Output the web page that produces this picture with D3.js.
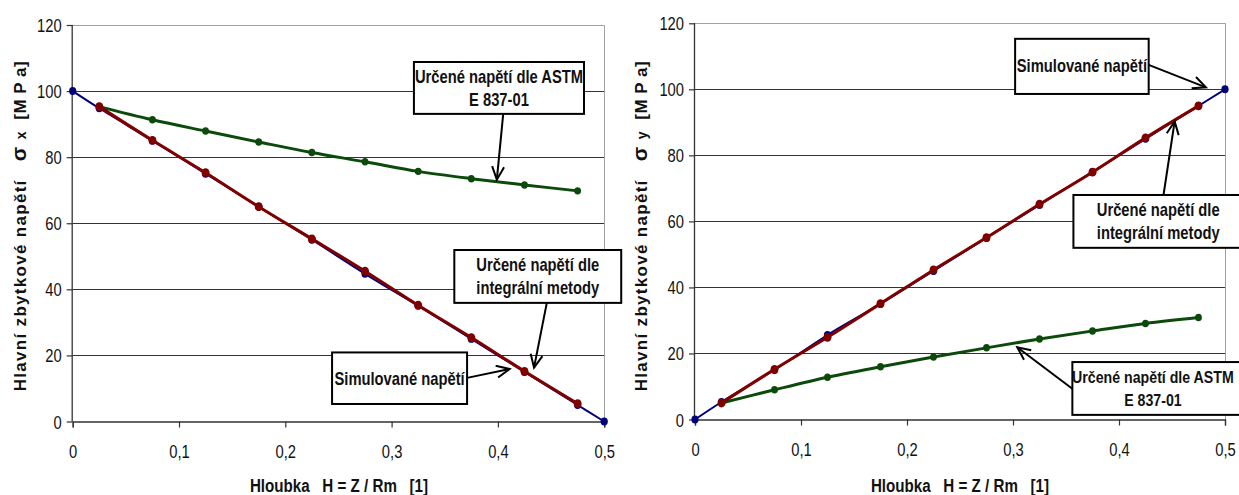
<!DOCTYPE html>
<html><head><meta charset="utf-8">
<script src="https://cdn.jsdelivr.net/npm/d3@7"></script>
<style>body{margin:0;background:#fff}svg{display:block}</style>
</head><body><svg id="c" width="1239" height="495"></svg>
<script>
// ---------- DATA ----------
const depthMeas = [0.025,0.075,0.125,0.175,0.225,0.275,0.325,0.375,0.425,0.475];
const depthSim  = [0,0.025,0.075,0.125,0.175,0.225,0.275,0.325,0.375,0.425,0.475,0.5];
const leftSim      = [100,94.8,85,75,65,55,44.7,35,25,15,5,0];
const leftIntegral = [95.3,85.1,75.3,65.0,55.3,45.5,35.2,25.4,15.2,5.4];
const leftAstm     = [95.3,91.3,87.9,84.6,81.4,78.6,75.7,73.5,71.6,69.8];
const rightSim      = [0,5.3,15,25.6,35,45,55,65,75,85,95,100];
const rightIntegral = [5.0,15.2,24.9,35.1,45.3,55.1,65.2,74.9,85.3,95.0];
const rightAstm     = [5.0,9.0,12.8,16.0,18.9,21.7,24.4,26.8,29.1,30.9];
const xTicks = [0,0.1,0.2,0.3,0.4,0.5];
const xTickLabels = ["0","0,1","0,2","0,3","0,4","0,5"];
const yTicks = [0,20,40,60,80,100,120];
const xTitle = "Hloubka   H = Z / Rm   [1]";
const yTitleMain = "Hlavní zbytkové napětí";
const yUnit = "[M P a]";
const noteAstm = ["Určené napětí dle ASTM","E 837-01"];
const noteIntegral = ["Určené napětí dle","integrální metody"];
const noteSim = ["Simulované napětí"];

// ---------- STYLE ----------
const C = {sim:"#00007a", integral:"#800000", astm:"#0b4a0b"};
const SANS = "'Liberation Sans',Arial,sans-serif";
const NX = 0.82; // horizontal condensing to mimic a narrow face
const svg = d3.select("#c");

const defs = svg.append("defs");
defs.append("marker").attr("id","arr").attr("markerUnits","userSpaceOnUse")
  .attr("viewBox","0 -7 16 14").attr("markerWidth",16).attr("markerHeight",14)
  .attr("refX",14).attr("refY",0).attr("orient","auto")
  .append("path").attr("d","M1,-6 L14,0 L1,6").attr("fill","none")
  .attr("stroke","#000").attr("stroke-width",2);

function narrow(g, x, y, t, o={}){
  return g.append("text").attr("transform",`translate(${x},${y}) scale(${NX},1)`)
    .attr("text-anchor",o.anchor||"middle").attr("font-family",SANS)
    .attr("font-weight",o.bold?"bold":"normal").attr("font-size",o.size||17)
    .attr("fill","#111").style("white-space","pre").text(t);
}

function panel(cfg){
  const x = d3.scaleLinear().domain([0,0.5]).range(cfg.xr);
  const y = d3.scaleLinear().domain([0,120]).range(cfg.yr);
  const g = svg.append("g");
  // gridlines
  g.selectAll(".grid").data(yTicks.filter(v=>v>0 && v<120)).enter().append("line")
    .attr("x1",x(0)).attr("x2",x(0.5)).attr("y1",d=>Math.round(y(d))+0.5).attr("y2",d=>Math.round(y(d))+0.5)
    .attr("stroke","#333").attr("stroke-width",1);
  // plot border top/right
  g.append("path").attr("d",`M${x(0)},${Math.round(y(120))+0.5}H${Math.round(x(0.5))+0.5}V${y(0)}`)
    .attr("fill","none").attr("stroke","#a0a0a0").attr("stroke-width",1);
  // axes
  const ya = d3.axisLeft(y).tickValues(yTicks).tickSize(6).tickPadding(0).tickFormat(d3.format("d"));
  const xa = d3.axisBottom(x).tickValues(xTicks).tickSize(6).tickPadding(0).tickFormat((d,i)=>xTickLabels[i]);
  const gy = g.append("g").attr("transform",`translate(${x(0)},0)`).call(ya);
  const gx = g.append("g").attr("transform",`translate(0,${y(0)})`).call(xa);
  [gy,gx].forEach(a=>{
    a.select(".domain").attr("stroke","#333").attr("stroke-width",1.3);
    a.selectAll(".tick line").attr("stroke","#333").attr("stroke-width",1.2);
    a.selectAll("text").attr("font-family",SANS).attr("font-size",18).attr("fill","#111");
  });
  gy.selectAll(".tick text").attr("x",null).attr("dy",null)
    .attr("transform",`translate(-11,6.5) scale(${NX},1)`).attr("text-anchor","end");
  gx.selectAll(".tick text").attr("y",null).attr("dy",null)
    .attr("transform",`translate(0,36) scale(${NX},1)`);
  gy.select(".domain").attr("d",`M-0.5,${y(120)}V${y(0)}`);
  // series
  const line = d3.line().curve(d3.curveCatmullRom.alpha(0.5)).x(d=>x(d[0])).y(d=>y(d[1]));
  const series = [
    {vals:depthSim.map((d,i)=>[d,cfg.sim[i]]), color:C.sim, w:2, r:3.6},
    {vals:depthMeas.map((d,i)=>[d,cfg.astm[i]]), color:C.astm, w:3, r:3.4},
    {vals:depthMeas.map((d,i)=>[d,cfg.integral[i]]), color:C.integral, w:3, r:4},
  ];
  series.forEach(s=>{
    g.append("path").attr("d",line(s.vals)).attr("fill","none").attr("stroke",s.color)
      .attr("stroke-width",s.w).attr("stroke-linejoin","round");
    g.selectAll(null).data(s.vals).enter().append("ellipse")
      .attr("cx",d=>x(d[0])).attr("cy",d=>y(d[1])).attr("rx",s.r).attr("ry",s.r*1.1).attr("fill",s.color);
  });
  // axis titles
  narrow(g, cfg.xTitleX, 492, xTitle, {bold:true, size:18.5});
  const yt = g.append("text").attr("transform",`translate(${cfg.yTitleX},226) rotate(-90)`)
    .attr("text-anchor","middle").attr("font-family",SANS)
    .attr("font-weight","bold").attr("font-size",17).attr("fill","#111").style("white-space","pre");
  yt.append("tspan").attr("letter-spacing","1.3px").text(yTitleMain+"   ");
  yt.append("tspan").attr("font-size",21).text("σ");
  yt.append("tspan").attr("font-size",14).text("  "+cfg.sub+"   ");
  yt.append("tspan").attr("letter-spacing","0.5px").text(yUnit);
  // annotations
  cfg.notes.forEach(n=>{
    const bx0=x(n.box[0]), bx1=x(n.box[1]), by0=y(n.box[2]), by1=y(n.box[3]);
    g.append("line").attr("x1",x(n.from[0])).attr("y1",y(n.from[1])).attr("x2",x(n.to[0])).attr("y2",y(n.to[1]))
      .attr("stroke","#000").attr("stroke-width",2).attr("marker-end","url(#arr)");
    g.append("rect").attr("x",bx0).attr("y",by0).attr("width",bx1-bx0).attr("height",by1-by0)
      .attr("fill","#fff").attr("stroke","#000").attr("stroke-width",2);
    const cx = n.cx!==undefined ? x(n.cx) : (bx0+bx1)/2;
    n.lines.forEach((t,i)=>{
      narrow(g, cx, by0+(n.lines.length===1?33:21+i*23), t, {bold:true, size:n.size||18});
    });
  });
}

panel({xr:[72.7,604.2], yr:[421.5,25], sim:leftSim, integral:leftIntegral, astm:leftAstm, sub:"x",
  xTitleX:339, yTitleX:26,
  notes:[
    {lines:noteAstm, box:[0.321,0.481,108.8,93.1], from:[0.405,93.1], to:[0.399,73.2]},
    {lines:noteIntegral, box:[0.359,0.516,51.9,35.9], from:[0.446,35.9], to:[0.434,16.3]},
    {lines:noteSim, box:[0.244,0.371,20.9,5.3], from:[0.371,13.2], to:[0.411,15.9]}
  ]});
panel({xr:[695,1225], yr:[419.5,23.3], sim:rightSim, integral:rightIntegral, astm:rightAstm, sub:"y",
  xTitleX:960, yTitleX:647,
  notes:[
    {lines:noteSim, box:[0.302,0.428,115.3,98.6], from:[0.428,107.4], to:[0.482,100.6]},
    {lines:noteIntegral, box:[0.357,0.516,68.0,52.0], cx:0.437, from:[0.442,68.0], to:[0.4525,90.3]},
    {lines:noteAstm, box:[0.356,0.516,17.4,1.4], cx:0.432, size:17.3, from:[0.356,9.3], to:[0.304,21.9]}
  ]});
</script></body></html>
